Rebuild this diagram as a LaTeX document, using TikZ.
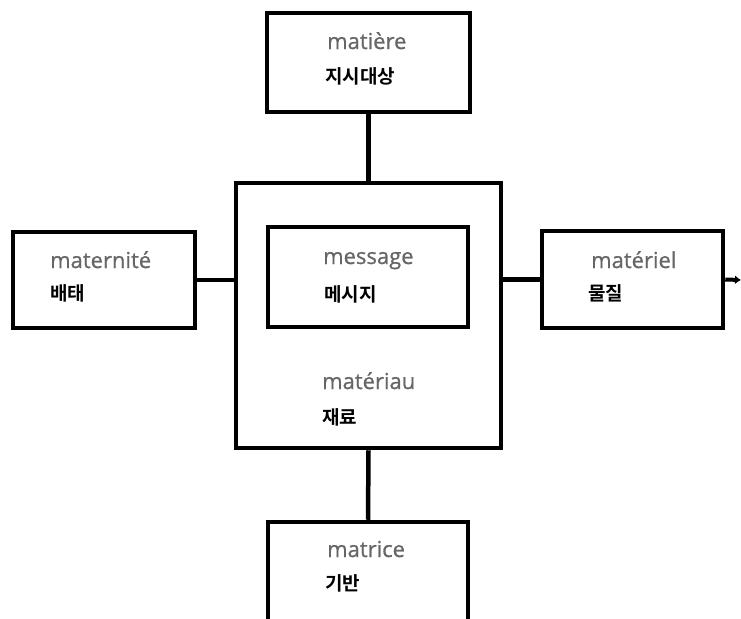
\documentclass[tikz,border=0pt]{standalone}
\usepackage{fontspec}
\setmainfont{Open Sans}
\newfontfamily\frfont{Open Sans}[FakeBold=0.8]
\newfontfamily\kofont{Noto Sans CJK KR}[BoldFont={* Bold}]
\usetikzlibrary{arrows.meta}
\definecolor{frtext}{HTML}{666666}
\begin{document}
\begin{tikzpicture}[x=1pt,y=-1pt,
  box/.style={draw=black,line width=4.5pt,fill=white,inner sep=0pt},
  link/.style={draw=black,line width=4.5pt},
  fr/.style={anchor=base west,inner sep=0pt,text=frtext,font=\frfont\fontsize{22}{26}\selectfont},
  ko/.style={anchor=base west,inner sep=0pt,text=black,font=\kofont\bfseries\fontsize{19}{22}\selectfont}]
\useasboundingbox (0,0) rectangle (741,618);
% boxes
\node[box,minimum width=203pt,minimum height=99pt] (top) at (368.5,62.5) {};
\node[box,minimum width=182pt,minimum height=96pt] (left) at (104,280) {};
\node[box,minimum width=181pt,minimum height=97pt] (right) at (632.5,279.5) {};
\node[box,minimum width=265pt,minimum height=265pt] (center) at (368.5,315.5) {};
\node[box,minimum width=200pt,minimum height=100pt] (msg) at (368,277) {};
\node[box,minimum width=200pt,minimum height=130pt] (bottom) at (368,587) {};
% connectors
\draw[link] (top.south) -- (top.south |- center.north);
\draw[link] (left.east) -- (left.east -| center.west);
\draw[link] (center.east |- right.west) -- (right.west);
\draw[link] (center.south) -- (bottom.north);
\coordinate (out) at (741,280);
\draw[line width=4pt,-{Latex[length=6pt,width=9pt]}] (right.east) -- (out);
% labels
\node[fr] (t1) at (327,49) {matière};
\node[ko] (t2) at (325,83) {지시대상};
\node[fr] (l1) at (50,268) {maternité};
\node[ko] (l2) at (50,300) {배태};
\node[fr] (m1) at (323,264) {message};
\node[ko] (m2) at (324,301) {메시지};
\node[fr] (c1) at (322,389) {matériau};
\node[ko] (c2) at (322,424) {재료};
\node[fr] (r1) at (591,268) {matériel};
\node[ko] (r2) at (588,300) {물질};
\node[fr] (b1) at (327,557) {matrice};
\node[ko] (b2) at (325,590) {기반};
\end{tikzpicture}
\end{document}
